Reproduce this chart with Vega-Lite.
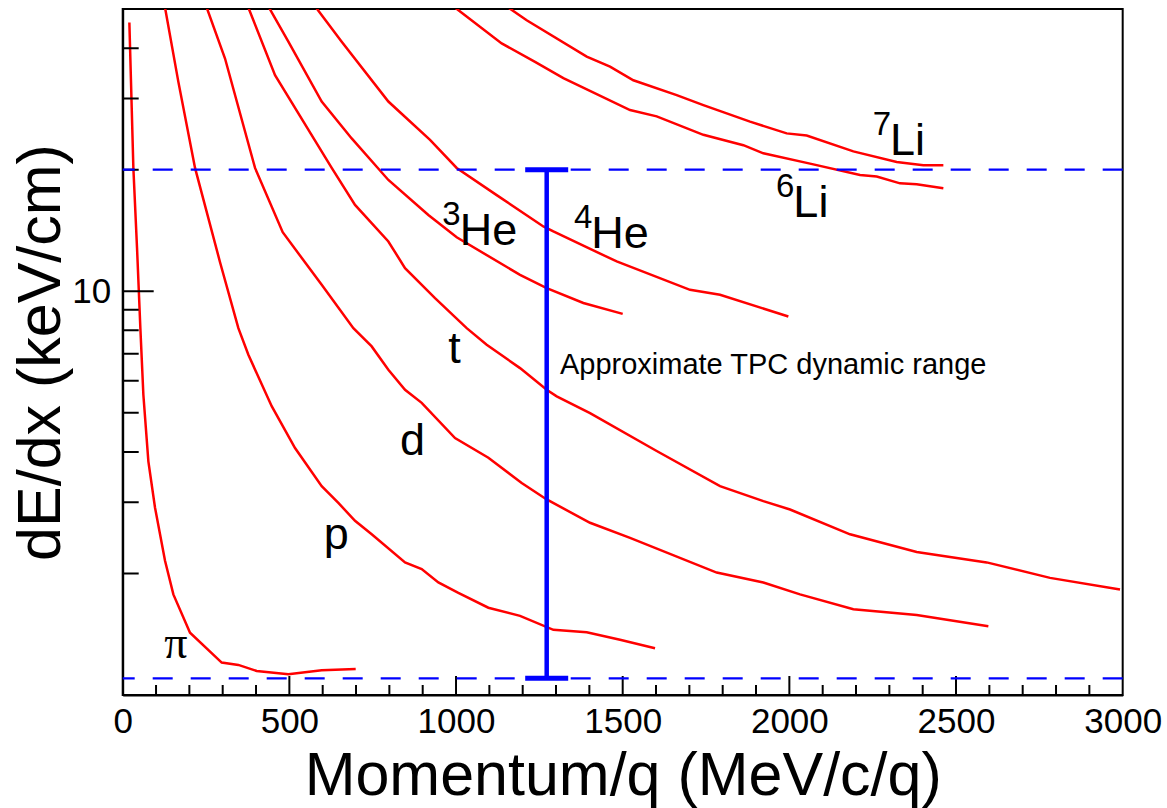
{
  "$schema": "https://vega.github.io/schema/vega-lite/v6.json",
  "width": 1000,
  "height": 686,
  "autosize": {"type": "none"},
  "padding": {"left": 122.7, "top": 9, "right": 44, "bottom": 113},
  "background": "white",
  "config": {
    "view": {"stroke": "black", "strokeWidth": 2},
    "font": "Liberation Sans",
    "axis": {"grid": false, "domainColor": "black", "domainWidth": 2, "labelColor": "black", "titleColor": "black"}
  },
  "datasets": {
    "curves": [
      {"s": "pi", "p": 20, "dedx": 46.3}, {"s": "pi", "p": 32, "dedx": 20.2}, {"s": "pi", "p": 43, "dedx": 12.8}, {"s": "pi", "p": 53, "dedx": 8.1}, {"s": "pi", "p": 62, "dedx": 5.54}, {"s": "pi", "p": 77, "dedx": 3.79}, {"s": "pi", "p": 97, "dedx": 2.91}, {"s": "pi", "p": 127, "dedx": 2.15}, {"s": "pi", "p": 152, "dedx": 1.775}, {"s": "pi", "p": 202, "dedx": 1.427}, {"s": "pi", "p": 297, "dedx": 1.203}, {"s": "pi", "p": 347, "dedx": 1.187}, {"s": "pi", "p": 402, "dedx": 1.147}, {"s": "pi", "p": 497, "dedx": 1.125}, {"s": "pi", "p": 597, "dedx": 1.151}, {"s": "pi", "p": 699, "dedx": 1.16},
      {"s": "p", "p": 127, "dedx": 50.4}, {"s": "p", "p": 167, "dedx": 33.0}, {"s": "p", "p": 217, "dedx": 20.2}, {"s": "p", "p": 292, "dedx": 11.8}, {"s": "p", "p": 347, "dedx": 8.1}, {"s": "p", "p": 377, "dedx": 6.96}, {"s": "p", "p": 447, "dedx": 5.19}, {"s": "p", "p": 517, "dedx": 4.09}, {"s": "p", "p": 597, "dedx": 3.29}, {"s": "p", "p": 647, "dedx": 2.99}, {"s": "p", "p": 697, "dedx": 2.70}, {"s": "p", "p": 747, "dedx": 2.50}, {"s": "p", "p": 847, "dedx": 2.13}, {"s": "p", "p": 897, "dedx": 2.05}, {"s": "p", "p": 947, "dedx": 1.90}, {"s": "p", "p": 1007, "dedx": 1.79}, {"s": "p", "p": 1097, "dedx": 1.645}, {"s": "p", "p": 1192, "dedx": 1.57}, {"s": "p", "p": 1292, "dedx": 1.45}, {"s": "p", "p": 1392, "dedx": 1.43}, {"s": "p", "p": 1492, "dedx": 1.37}, {"s": "p", "p": 1597, "dedx": 1.305},
      {"s": "d", "p": 252, "dedx": 50.4}, {"s": "d", "p": 307, "dedx": 37.7}, {"s": "d", "p": 397, "dedx": 20.2}, {"s": "d", "p": 480, "dedx": 14.0}, {"s": "d", "p": 597, "dedx": 10.37}, {"s": "d", "p": 692, "dedx": 8.1}, {"s": "d", "p": 747, "dedx": 7.30}, {"s": "d", "p": 797, "dedx": 6.39}, {"s": "d", "p": 847, "dedx": 5.70}, {"s": "d", "p": 897, "dedx": 5.29}, {"s": "d", "p": 997, "dedx": 4.33}, {"s": "d", "p": 1097, "dedx": 3.87}, {"s": "d", "p": 1197, "dedx": 3.35}, {"s": "d", "p": 1272, "dedx": 3.05}, {"s": "d", "p": 1402, "dedx": 2.67}, {"s": "d", "p": 1522, "dedx": 2.45}, {"s": "d", "p": 1782, "dedx": 2.01}, {"s": "d", "p": 1922, "dedx": 1.90}, {"s": "d", "p": 2032, "dedx": 1.775}, {"s": "d", "p": 2192, "dedx": 1.63}, {"s": "d", "p": 2382, "dedx": 1.578}, {"s": "d", "p": 2597, "dedx": 1.48},
      {"s": "t", "p": 377, "dedx": 50.4}, {"s": "t", "p": 457, "dedx": 34.3}, {"s": "t", "p": 627, "dedx": 20.2}, {"s": "t", "p": 697, "dedx": 16.36}, {"s": "t", "p": 797, "dedx": 13.28}, {"s": "t", "p": 847, "dedx": 11.41}, {"s": "t", "p": 937, "dedx": 9.61}, {"s": "t", "p": 1032, "dedx": 8.10}, {"s": "t", "p": 1092, "dedx": 7.37}, {"s": "t", "p": 1192, "dedx": 6.45}, {"s": "t", "p": 1272, "dedx": 5.70}, {"s": "t", "p": 1302, "dedx": 5.49}, {"s": "t", "p": 1402, "dedx": 4.99}, {"s": "t", "p": 1602, "dedx": 4.02}, {"s": "t", "p": 1792, "dedx": 3.29}, {"s": "t", "p": 1922, "dedx": 3.02}, {"s": "t", "p": 2002, "dedx": 2.88}, {"s": "t", "p": 2182, "dedx": 2.50}, {"s": "t", "p": 2382, "dedx": 2.26}, {"s": "t", "p": 2592, "dedx": 2.13}, {"s": "t", "p": 2782, "dedx": 1.95}, {"s": "t", "p": 2992, "dedx": 1.825},
      {"s": "He3", "p": 439, "dedx": 50.4}, {"s": "He3", "p": 497, "dedx": 41.5}, {"s": "He3", "p": 597, "dedx": 29.5}, {"s": "He3", "p": 687, "dedx": 23.9}, {"s": "He3", "p": 797, "dedx": 18.86}, {"s": "He3", "p": 917, "dedx": 15.45}, {"s": "He3", "p": 1002, "dedx": 13.6}, {"s": "He3", "p": 1192, "dedx": 10.98}, {"s": "He3", "p": 1272, "dedx": 10.18}, {"s": "He3", "p": 1382, "dedx": 9.35}, {"s": "He3", "p": 1500, "dedx": 8.79},
      {"s": "He4", "p": 580, "dedx": 50.4}, {"s": "He4", "p": 657, "dedx": 41.5}, {"s": "He4", "p": 797, "dedx": 29.5}, {"s": "He4", "p": 922, "dedx": 23.7}, {"s": "He4", "p": 1002, "dedx": 20.2}, {"s": "He4", "p": 1122, "dedx": 17.3}, {"s": "He4", "p": 1262, "dedx": 14.47}, {"s": "He4", "p": 1292, "dedx": 14.06}, {"s": "He4", "p": 1482, "dedx": 11.85}, {"s": "He4", "p": 1702, "dedx": 10.08}, {"s": "He4", "p": 1792, "dedx": 9.80}, {"s": "He4", "p": 1997, "dedx": 8.66},
      {"s": "Li6", "p": 997, "dedx": 50.4}, {"s": "Li6", "p": 1137, "dedx": 41.1}, {"s": "Li6", "p": 1237, "dedx": 37.0}, {"s": "Li6", "p": 1322, "dedx": 33.7}, {"s": "Li6", "p": 1522, "dedx": 28.1}, {"s": "Li6", "p": 1602, "dedx": 27.1}, {"s": "Li6", "p": 1742, "dedx": 24.4}, {"s": "Li6", "p": 1862, "dedx": 23.0}, {"s": "Li6", "p": 1922, "dedx": 21.96}, {"s": "Li6", "p": 2062, "dedx": 20.7}, {"s": "Li6", "p": 2212, "dedx": 19.41}, {"s": "Li6", "p": 2262, "dedx": 19.23}, {"s": "Li6", "p": 2332, "dedx": 18.5}, {"s": "Li6", "p": 2382, "dedx": 18.4}, {"s": "Li6", "p": 2462, "dedx": 17.99},
      {"s": "Li7", "p": 1157, "dedx": 50.4}, {"s": "Li7", "p": 1212, "dedx": 46.9}, {"s": "Li7", "p": 1392, "dedx": 38.1}, {"s": "Li7", "p": 1462, "dedx": 36.0}, {"s": "Li7", "p": 1532, "dedx": 33.3}, {"s": "Li7", "p": 1662, "dedx": 30.6}, {"s": "Li7", "p": 1742, "dedx": 28.9}, {"s": "Li7", "p": 1882, "dedx": 26.3}, {"s": "Li7", "p": 1992, "dedx": 24.6}, {"s": "Li7", "p": 2052, "dedx": 24.3}, {"s": "Li7", "p": 2192, "dedx": 22.2}, {"s": "Li7", "p": 2322, "dedx": 20.9}, {"s": "Li7", "p": 2402, "dedx": 20.5}, {"s": "Li7", "p": 2462, "dedx": 20.5}
    ],
    "xticks": [
      {"v": 100, "k": "minor"}, {"v": 200, "k": "minor"}, {"v": 300, "k": "minor"}, {"v": 400, "k": "minor"}, {"v": 500, "k": "major"},
      {"v": 600, "k": "minor"}, {"v": 700, "k": "minor"}, {"v": 800, "k": "minor"}, {"v": 900, "k": "minor"}, {"v": 1000, "k": "major"},
      {"v": 1100, "k": "minor"}, {"v": 1200, "k": "minor"}, {"v": 1300, "k": "minor"}, {"v": 1400, "k": "minor"}, {"v": 1500, "k": "major"},
      {"v": 1600, "k": "minor"}, {"v": 1700, "k": "minor"}, {"v": 1800, "k": "minor"}, {"v": 1900, "k": "minor"}, {"v": 2000, "k": "major"},
      {"v": 2100, "k": "minor"}, {"v": 2200, "k": "minor"}, {"v": 2300, "k": "minor"}, {"v": 2400, "k": "minor"}, {"v": 2500, "k": "major"},
      {"v": 2600, "k": "minor"}, {"v": 2700, "k": "minor"}, {"v": 2800, "k": "minor"}, {"v": 2900, "k": "minor"}
    ],
    "yticks": [
      {"v": 2, "k": "minor"}, {"v": 3, "k": "minor"}, {"v": 4, "k": "minor"}, {"v": 5, "k": "minor"}, {"v": 6, "k": "minor"},
      {"v": 7, "k": "minor"}, {"v": 8, "k": "minor"}, {"v": 9, "k": "minor"}, {"v": 10, "k": "major"},
      {"v": 20, "k": "minor"}, {"v": 30, "k": "minor"}, {"v": 40, "k": "minor"}, {"v": 50, "k": "minor"}
    ],
    "limits": [{"dedx": 1.1}, {"dedx": 20}],
    "range": [{"p": 1272, "dedx": 1.1, "dedx2": 20}],
    "caps": [{"p": 1272, "dedx": 1.1}, {"p": 1272, "dedx": 20}],
    "labels": [
      {"lab": "p", "sup": "", "p": 603, "dedx": 2.293},
      {"lab": "d", "sup": "", "p": 832, "dedx": 3.94},
      {"lab": "t", "sup": "", "p": 977, "dedx": 6.64},
      {"lab": "He", "sup": "3", "p": 1011, "dedx": 13.02},
      {"lab": "He", "sup": "4", "p": 1406, "dedx": 12.79},
      {"lab": "Li", "sup": "6", "p": 2012, "dedx": 15.31},
      {"lab": "Li", "sup": "7", "p": 2302, "dedx": 21.75}
    ],
    "pi": [{"lab": "π", "p": 125, "dedx": 1.237}],
    "note": [{"lab": "Approximate TPC dynamic range", "p": 1312, "dedx": 6.25}]
  },
  "layer": [
    {
      "data": {"name": "curves"},
      "mark": {"type": "line", "color": "#ff0000", "strokeWidth": 2.5, "clip": true},
      "encoding": {
        "x": {
          "field": "p", "type": "quantitative",
          "scale": {"domain": [0, 3000], "nice": false, "zero": false},
          "axis": {
            "title": "Momentum/q (MeV/c/q)",
            "values": [0, 500, 1000, 1500, 2000, 2500, 3000],
            "format": "d",
            "ticks": false,
            "domain": true,
            "labelFont": "Liberation Sans",
            "labelFontSize": 35,
            "labelPadding": 10,
            "labelFlush": false,
            "labelOverlap": false,
            "titleFont": "Liberation Sans",
            "titleFontSize": 61,
            "titleFontWeight": "normal",
            "titleY": 100,
            "titleBaseline": "alphabetic"
          }
        },
        "y": {
          "field": "dedx", "type": "quantitative",
          "scale": {"type": "log", "domain": [1, 50], "nice": false},
          "axis": {
            "title": "dE/dx (keV/cm)",
            "values": [10],
            "format": "d",
            "ticks": false,
            "domain": true,
            "labelFont": "Liberation Sans",
            "labelFontSize": 35,
            "labelPadding": 12,
            "labelFlush": false,
            "labelOverlap": false,
            "titleFont": "Liberation Sans",
            "titleFontSize": 61,
            "titleFontWeight": "normal",
            "titleX": -62.7,
            "titleBaseline": "alphabetic"
          }
        },
        "detail": {"field": "s", "type": "nominal"}
      }
    },
    {
      "data": {"name": "xticks"},
      "mark": {"type": "tick", "color": "black", "orient": "vertical", "thickness": 2, "opacity": 1, "clip": true},
      "encoding": {
        "x": {"field": "v", "type": "quantitative", "scale": {"domain": [0, 3000], "nice": false, "zero": false}},
        "y": {"datum": 1, "type": "quantitative", "scale": {"type": "log", "domain": [1, 50], "nice": false}},
        "size": {"condition": {"test": "datum.k === 'major'", "value": 38}, "value": 20}
      }
    },
    {
      "data": {"name": "yticks"},
      "mark": {"type": "tick", "color": "black", "orient": "horizontal", "thickness": 2, "opacity": 1, "clip": true},
      "encoding": {
        "x": {"datum": 0, "type": "quantitative", "scale": {"domain": [0, 3000], "nice": false, "zero": false}},
        "y": {"field": "v", "type": "quantitative", "scale": {"type": "log", "domain": [1, 50], "nice": false}},
        "size": {"condition": {"test": "datum.k === 'major'", "value": 62}, "value": 32}
      }
    },
    {
      "data": {"name": "limits"},
      "mark": {"type": "rule", "color": "#0000ff", "strokeWidth": 2.3, "strokeDash": [20, 18]},
      "encoding": {
        "y": {"field": "dedx", "type": "quantitative", "scale": {"type": "log", "domain": [1, 50], "nice": false}}
      }
    },
    {
      "data": {"name": "range"},
      "mark": {"type": "rule", "color": "#0000ff", "strokeWidth": 4.5},
      "encoding": {
        "x": {"field": "p", "type": "quantitative", "scale": {"domain": [0, 3000], "nice": false, "zero": false}},
        "y": {"field": "dedx", "type": "quantitative", "scale": {"type": "log", "domain": [1, 50], "nice": false}},
        "y2": {"field": "dedx2"}
      }
    },
    {
      "data": {"name": "caps"},
      "mark": {"type": "tick", "color": "#0000ff", "orient": "horizontal", "size": 43, "thickness": 5, "opacity": 1},
      "encoding": {
        "x": {"field": "p", "type": "quantitative", "scale": {"domain": [0, 3000], "nice": false, "zero": false}},
        "y": {"field": "dedx", "type": "quantitative", "scale": {"type": "log", "domain": [1, 50], "nice": false}}
      }
    },
    {
      "data": {"name": "labels"},
      "mark": {"type": "text", "align": "left", "baseline": "alphabetic", "fontSize": 45, "font": "Liberation Sans", "color": "black"},
      "encoding": {
        "x": {"field": "p", "type": "quantitative", "scale": {"domain": [0, 3000], "nice": false, "zero": false}},
        "y": {"field": "dedx", "type": "quantitative", "scale": {"type": "log", "domain": [1, 50], "nice": false}},
        "text": {"field": "lab"}
      }
    },
    {
      "data": {"name": "labels"},
      "mark": {"type": "text", "align": "right", "baseline": "alphabetic", "fontSize": 33, "font": "Liberation Sans", "color": "black", "dx": 1, "dy": -20},
      "encoding": {
        "x": {"field": "p", "type": "quantitative", "scale": {"domain": [0, 3000], "nice": false, "zero": false}},
        "y": {"field": "dedx", "type": "quantitative", "scale": {"type": "log", "domain": [1, 50], "nice": false}},
        "text": {"field": "sup"}
      }
    },
    {
      "data": {"name": "pi"},
      "mark": {"type": "text", "align": "left", "baseline": "alphabetic", "fontSize": 46, "font": "Liberation Serif", "color": "black"},
      "encoding": {
        "x": {"field": "p", "type": "quantitative", "scale": {"domain": [0, 3000], "nice": false, "zero": false}},
        "y": {"field": "dedx", "type": "quantitative", "scale": {"type": "log", "domain": [1, 50], "nice": false}},
        "text": {"field": "lab"}
      }
    },
    {
      "data": {"name": "note"},
      "mark": {"type": "text", "align": "left", "baseline": "alphabetic", "fontSize": 29, "font": "Liberation Sans", "color": "black"},
      "encoding": {
        "x": {"field": "p", "type": "quantitative", "scale": {"domain": [0, 3000], "nice": false, "zero": false}},
        "y": {"field": "dedx", "type": "quantitative", "scale": {"type": "log", "domain": [1, 50], "nice": false}},
        "text": {"field": "lab"}
      }
    }
  ]
}
